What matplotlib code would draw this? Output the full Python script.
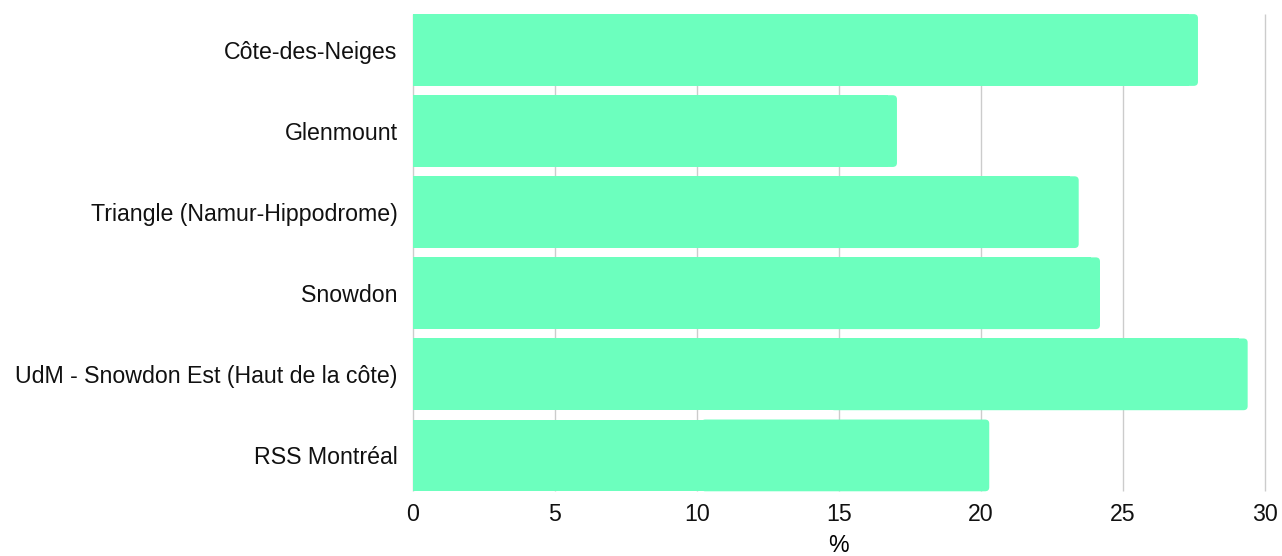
import matplotlib.pyplot as plt
from matplotlib.patches import FancyBboxPatch

plt.rcParams['font.family'] = ['Liberation Sans', 'DejaVu Sans']

quartiers = ['Côte-des-Neiges', 'Glenmount', 'Triangle (Namur-Hippodrome)',
             'Snowdon', 'UdM - Snowdon Est (Haut de la côte)', 'RSS Montréal']
valeurs = [27.65, 17.05, 23.45, 24.2, 29.4, 20.3]
x_ticks = [0, 5, 10, 15, 20, 25, 30]

fig = plt.figure(figsize=(12.82, 5.56), dpi=100)
ax = fig.add_axes([0.322, 0.108, 0.6645, 0.875])

bar_color = '#6cffbe'
h = 0.885
pos = list(range(len(quartiers)))[::-1]
# square left part, rounded right end
bars = ax.barh(pos, [v - 0.3 for v in valeurs], height=h, color=bar_color, zorder=2)
for p, v in zip(pos, valeurs):
    ax.add_patch(FancyBboxPatch((v / 2, p - h / 2), v / 2, h,
                                boxstyle='round,pad=0,rounding_size=0.15',
                                mutation_aspect=0.33, color=bar_color,
                                linewidth=0, zorder=2))

# grid lines only over the bar area
ax.vlines(x_ticks, min(pos) - h / 2, max(pos) + h / 2, color='#cccccc',
          linewidth=1, zorder=0, clip_on=False)

ax.set_xlim(0, 30)
ax.set_ylim(-0.5, len(quartiers) - 0.5)
ax.set_xticks(x_ticks)
ax.set_yticks(pos)
ax.set_yticklabels(quartiers)
ax.tick_params(axis='both', length=0, labelsize=16.7, colors='#111111')
ax.tick_params(axis='x', pad=5)
ax.tick_params(axis='y', pad=11)
for s in ['top', 'right', 'bottom', 'left']:
    ax.spines[s].set_visible(False)
ax.set_xlabel('%', fontsize=16.7, labelpad=6)

fig.savefig('out.png', dpi=100)
